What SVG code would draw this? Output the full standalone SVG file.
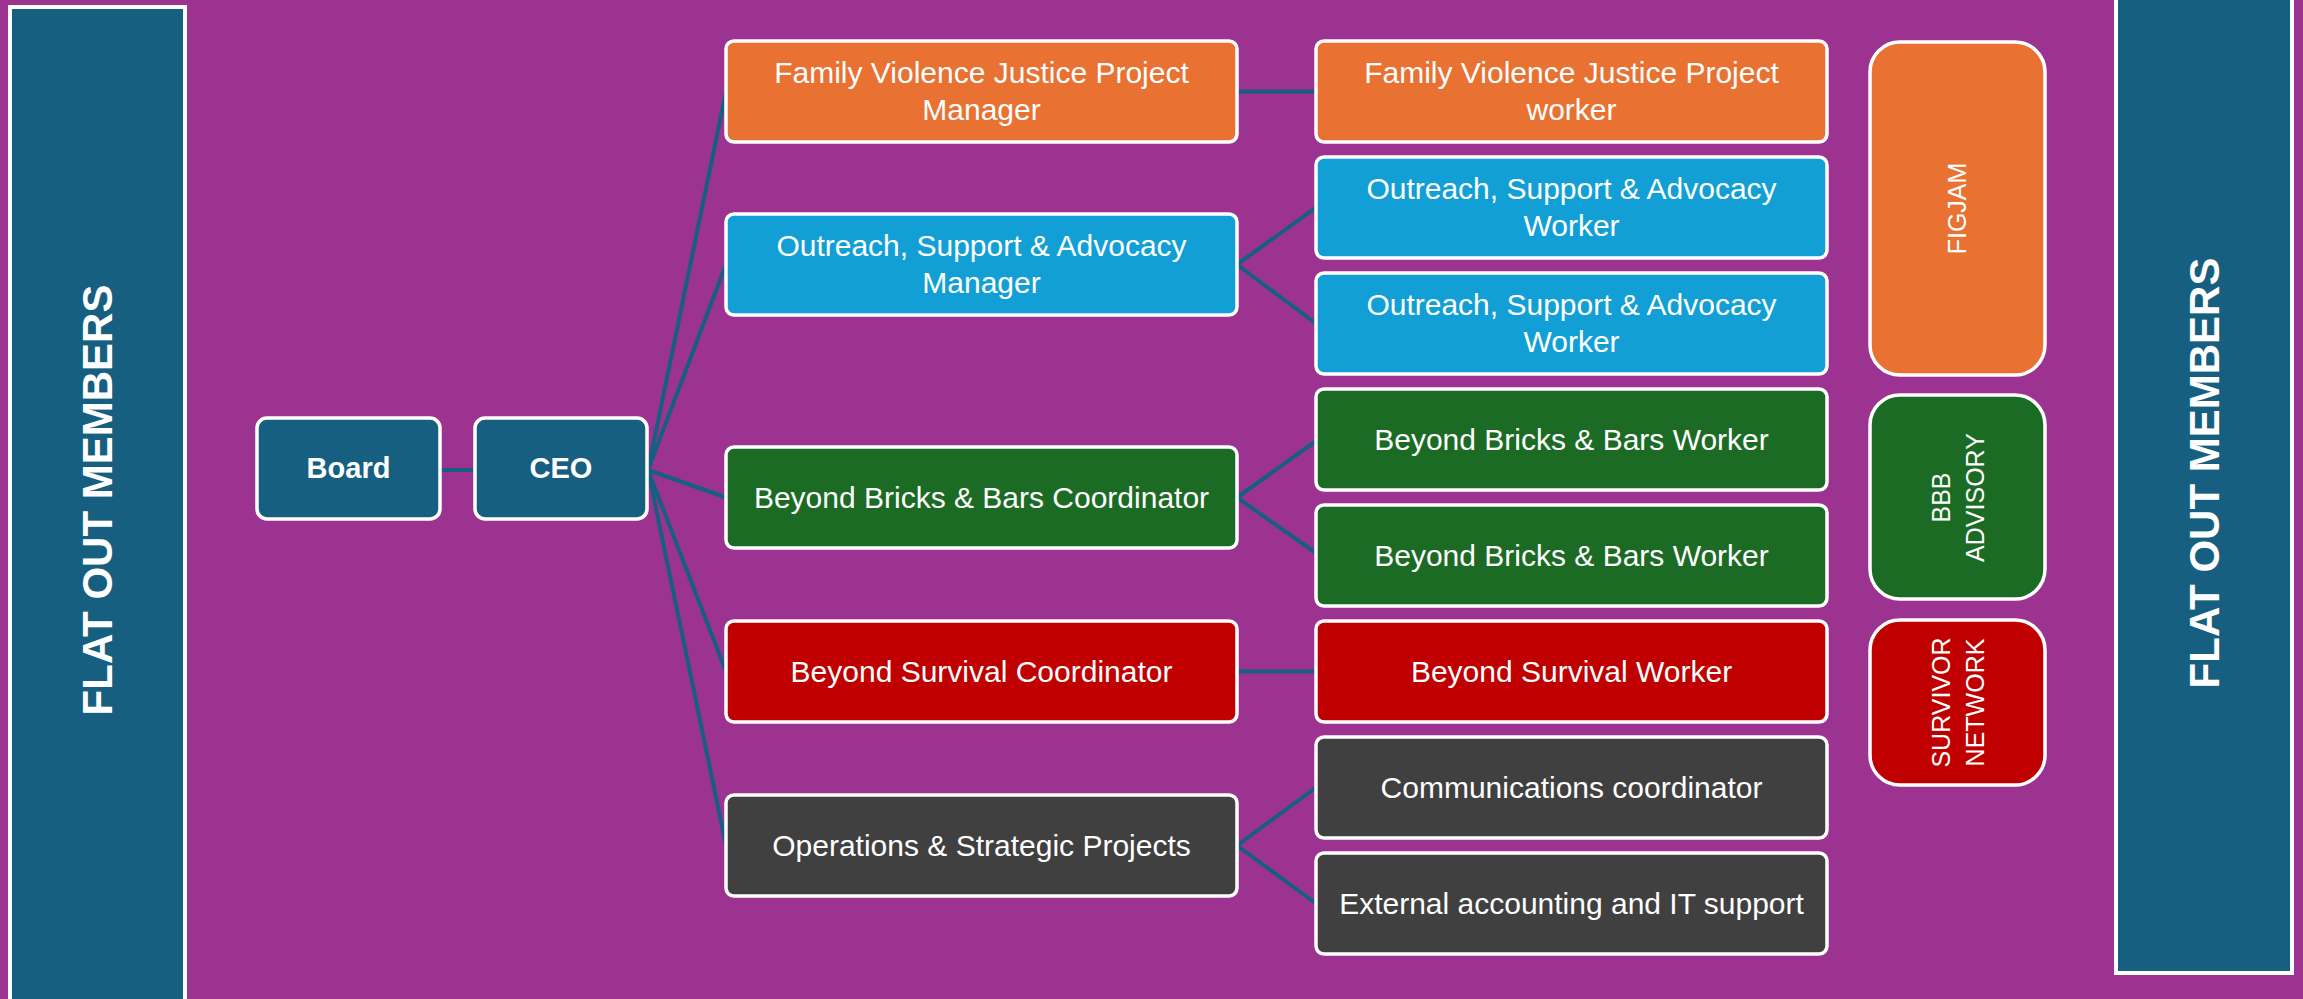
<svg xmlns="http://www.w3.org/2000/svg" width="2303" height="999" viewBox="0 0 2303 999">
  <style>
    .box { stroke: #ffffff; stroke-width: 3.5; }
    .bar { fill: #175F80; stroke: #ffffff; stroke-width: 4; }
    .teal { fill: #175F80; }
    .orange { fill: #E97132; }
    .blue { fill: #129FD6; }
    .green { fill: #1C6B25; }
    .red { fill: #C00000; }
    .grey { fill: #404040; }
    .lbl { font-family: "Liberation Sans", Arial, sans-serif; font-size: 30px; fill: #ffffff; text-anchor: middle; }
    .bold { font-family: "Liberation Sans", Arial, sans-serif; font-size: 29px; font-weight: bold; fill: #ffffff; text-anchor: middle; }
    .side { font-family: "Liberation Sans", Arial, sans-serif; font-size: 42px; font-weight: bold; fill: #ffffff; text-anchor: middle; }
    .tag { font-family: "Liberation Sans", Arial, sans-serif; font-size: 25px; fill: #ffffff; text-anchor: middle; }
    .conn line { stroke: #175F80; stroke-width: 4; stroke-linecap: round; }
  </style>

  <!-- background -->
  <rect x="0" y="0" width="2303" height="999" fill="#9D3391"/>

  <!-- membership bars -->
  <g id="members-left">
    <rect class="bar" x="10" y="7" width="175" height="1000"/>
    <text class="side" transform="translate(112,500) rotate(-90)">FLAT OUT MEMBERS</text>
  </g>
  <g id="members-right">
    <rect class="bar" x="2116" y="-10" width="176" height="983"/>
    <text class="side" transform="translate(2219,473) rotate(-90)">FLAT OUT MEMBERS</text>
  </g>

  <!-- connectors -->
  <g id="connectors" class="conn">
    <line x1="441" y1="470" x2="474" y2="470"/>
    <line x1="648" y1="470" x2="726" y2="91.5"/>
    <line x1="648" y1="470" x2="726" y2="264.5"/>
    <line x1="648" y1="470" x2="726" y2="497.5"/>
    <line x1="648" y1="470" x2="726" y2="671.5"/>
    <line x1="648" y1="470" x2="726" y2="845.5"/>
    <line x1="1237" y1="91.5" x2="1316" y2="91.5"/>
    <line x1="1237" y1="264.5" x2="1316" y2="207.5"/>
    <line x1="1237" y1="264.5" x2="1316" y2="323.5"/>
    <line x1="1237" y1="497.5" x2="1316" y2="441"/>
    <line x1="1237" y1="497.5" x2="1316" y2="553"/>
    <line x1="1237" y1="671.5" x2="1316" y2="671.5"/>
    <line x1="1237" y1="845.5" x2="1316" y2="787.5"/>
    <line x1="1237" y1="845.5" x2="1316" y2="903.5"/>
  </g>

  <!-- governance -->
  <g id="board">
    <rect class="box teal" x="257" y="418" width="183" height="101" rx="10"/>
    <text class="bold" x="348.5" y="478">Board</text>
  </g>
  <g id="ceo">
    <rect class="box teal" x="475" y="418" width="172" height="101" rx="10"/>
    <text class="bold" x="561" y="478">CEO</text>
  </g>

  <!-- program leads -->
  <g id="fvjp-manager">
    <rect class="box orange" x="726" y="41" width="511" height="101" rx="8"/>
    <text class="lbl" x="981.5" y="83">Family Violence Justice Project</text>
    <text class="lbl" x="981.5" y="119.5">Manager</text>
  </g>
  <g id="osa-manager">
    <rect class="box blue" x="726" y="214" width="511" height="101" rx="8"/>
    <text class="lbl" x="981.5" y="256">Outreach, Support &amp; Advocacy</text>
    <text class="lbl" x="981.5" y="292.5">Manager</text>
  </g>
  <g id="bbb-coordinator">
    <rect class="box green" x="726" y="447" width="511" height="101" rx="8"/>
    <text class="lbl" x="981.5" y="508">Beyond Bricks &amp; Bars Coordinator</text>
  </g>
  <g id="bs-coordinator">
    <rect class="box red" x="726" y="621" width="511" height="101" rx="8"/>
    <text class="lbl" x="981.5" y="682">Beyond Survival Coordinator</text>
  </g>
  <g id="operations">
    <rect class="box grey" x="726" y="795" width="511" height="101" rx="8"/>
    <text class="lbl" x="981.5" y="856">Operations &amp; Strategic Projects</text>
  </g>

  <!-- staff -->
  <g id="fvjp-worker">
    <rect class="box orange" x="1316" y="41" width="511" height="101" rx="8"/>
    <text class="lbl" x="1571.5" y="83">Family Violence Justice Project</text>
    <text class="lbl" x="1571.5" y="119.5">worker</text>
  </g>
  <g id="osa-worker-1">
    <rect class="box blue" x="1316" y="157" width="511" height="101" rx="8"/>
    <text class="lbl" x="1571.5" y="199">Outreach, Support &amp; Advocacy</text>
    <text class="lbl" x="1571.5" y="235.5">Worker</text>
  </g>
  <g id="osa-worker-2">
    <rect class="box blue" x="1316" y="273" width="511" height="101" rx="8"/>
    <text class="lbl" x="1571.5" y="315">Outreach, Support &amp; Advocacy</text>
    <text class="lbl" x="1571.5" y="351.5">Worker</text>
  </g>
  <g id="bbb-worker-1">
    <rect class="box green" x="1316" y="389" width="511" height="101" rx="8"/>
    <text class="lbl" x="1571.5" y="450">Beyond Bricks &amp; Bars Worker</text>
  </g>
  <g id="bbb-worker-2">
    <rect class="box green" x="1316" y="505" width="511" height="101" rx="8"/>
    <text class="lbl" x="1571.5" y="566">Beyond Bricks &amp; Bars Worker</text>
  </g>
  <g id="bs-worker">
    <rect class="box red" x="1316" y="621" width="511" height="101" rx="8"/>
    <text class="lbl" x="1571.5" y="682">Beyond Survival Worker</text>
  </g>
  <g id="communications">
    <rect class="box grey" x="1316" y="737" width="511" height="101" rx="8"/>
    <text class="lbl" x="1571.5" y="798">Communications coordinator</text>
  </g>
  <g id="accounting-it">
    <rect class="box grey" x="1316" y="853" width="511" height="101" rx="8"/>
    <text class="lbl" x="1571.5" y="914">External accounting and IT support</text>
  </g>

  <!-- advisory groups -->
  <g id="figjam">
    <rect class="box orange" x="1870" y="42" width="175" height="333" rx="30"/>
    <text class="tag" transform="translate(1966,208.5) rotate(-90)">FIGJAM</text>
  </g>
  <g id="bbb-advisory">
    <rect class="box green" x="1870" y="395" width="175" height="204" rx="30"/>
    <text class="tag" transform="translate(1950,497.5) rotate(-90)">BBB</text>
    <text class="tag" transform="translate(1984,497.5) rotate(-90)">ADVISORY</text>
  </g>
  <g id="survivor-network">
    <rect class="box red" x="1870" y="620" width="175" height="165" rx="30"/>
    <text class="tag" transform="translate(1950,702.5) rotate(-90)">SURVIVOR</text>
    <text class="tag" transform="translate(1984,702.5) rotate(-90)">NETWORK</text>
  </g>
</svg>
